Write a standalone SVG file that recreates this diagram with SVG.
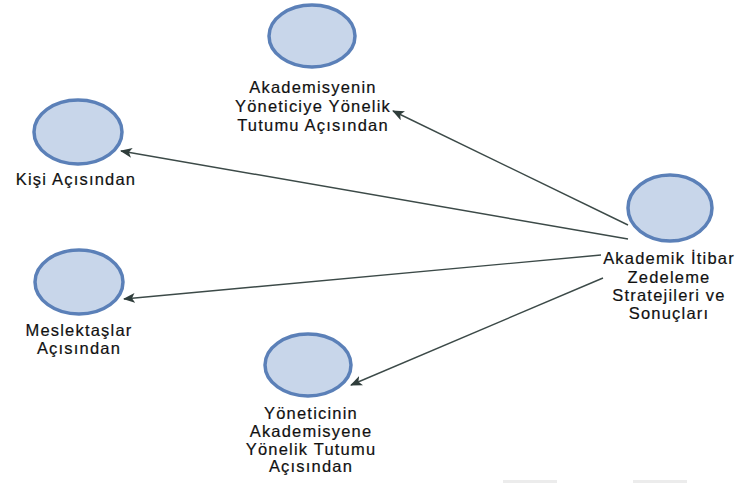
<svg xmlns="http://www.w3.org/2000/svg" width="746" height="483" viewBox="0 0 746 483">
  <defs>
    <marker id="arrow" viewBox="0 0 12 10" refX="11" refY="5" markerWidth="12" markerHeight="10" markerUnits="userSpaceOnUse" orient="auto">
      <path d="M0,0 L12,5 L0,10 L3,5 Z" fill="#2f3d3b"/>
    </marker>
  </defs>
  <style>
    .node ellipse { fill: #c8d6ea; stroke: #5b80b8; stroke-width: 3.5; }
    .node text { font-family: "Liberation Sans", Arial, sans-serif; font-size: 16.5px; letter-spacing: 1.2px; fill: #111111; stroke: #111111; stroke-width: 0.2; text-anchor: middle; }
    .edge { stroke: #3c4a48; stroke-width: 1.4; fill: none; marker-end: url(#arrow); }
    .strip { fill: #ececec; }
  </style>
  <rect width="746" height="483" fill="#ffffff"/>

  <g id="connectors">
    <line class="edge" x1="628" y1="225" x2="393" y2="111"/>
    <line class="edge" x1="628" y1="239" x2="121" y2="151"/>
    <line class="edge" x1="601" y1="255" x2="124" y2="299"/>
    <line class="edge" x1="603" y1="278" x2="351" y2="385"/>
  </g>

  <g id="node-center" class="node">
    <ellipse cx="670" cy="208" rx="42" ry="33"/>
    <text x="669" y="264">Akademik İtibar</text>
    <text x="669" y="283">Zedeleme</text>
    <text x="669" y="301">Stratejileri ve</text>
    <text x="669" y="319">Sonuçları</text>
  </g>

  <g id="node-akademisyen" class="node">
    <ellipse cx="312" cy="36" rx="43" ry="31"/>
    <text x="313" y="93">Akademisyenin</text>
    <text x="313" y="112">Yöneticiye Yönelik</text>
    <text x="313" y="131">Tutumu Açısından</text>
  </g>

  <g id="node-kisi" class="node">
    <ellipse cx="78" cy="132" rx="44" ry="32"/>
    <text x="76" y="185">Kişi Açısından</text>
  </g>

  <g id="node-meslektas" class="node">
    <ellipse cx="79" cy="282" rx="44" ry="32"/>
    <text x="79" y="336">Meslektaşlar</text>
    <text x="79" y="354">Açısından</text>
  </g>

  <g id="node-yonetici" class="node">
    <ellipse cx="308" cy="365" rx="43" ry="31"/>
    <text x="311" y="419">Yöneticinin</text>
    <text x="311" y="437">Akademisyene</text>
    <text x="311" y="455">Yönelik Tutumu</text>
    <text x="311" y="472">Açısından</text>
  </g>

  <!-- faint strips along the bottom edge -->
  <rect class="strip" x="503" y="480" width="54" height="3"/>
  <rect class="strip" x="633" y="480" width="54" height="3"/>
</svg>
